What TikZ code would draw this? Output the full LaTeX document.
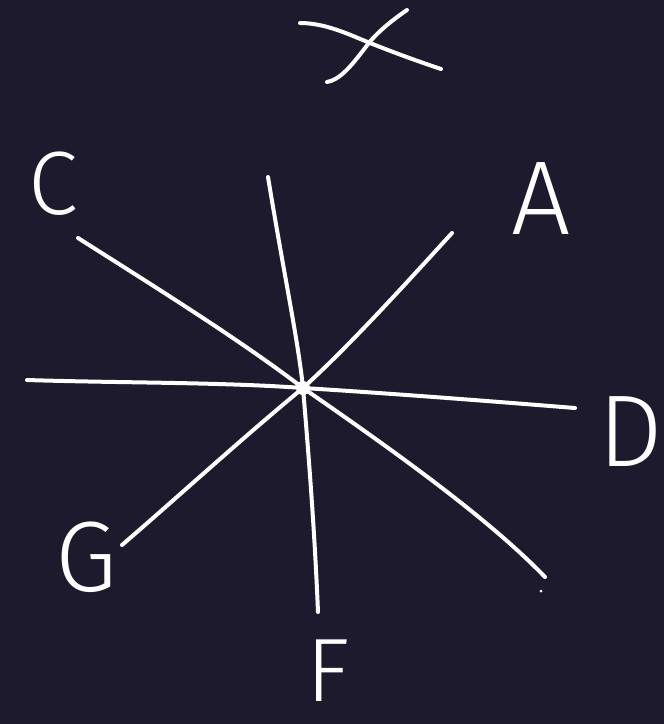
\documentclass[tikz,border=0pt]{standalone}
\usepackage{fontspec}
\setmainfont{Fira Sans Light}
\definecolor{bg}{HTML}{1E1A2E}
\begin{document}
\begin{tikzpicture}[x=1pt,y=-1pt,
  stroke/.style={draw=white,line width=4pt,line cap=round,line join=round},
  letter/.style={text=white,inner sep=0pt,anchor=center}]
\fill[bg] (0,0) rectangle (664,724);
\useasboundingbox (0,0) rectangle (664,724);
% centre
\coordinate (O) at (303,388);
% line ends
\coordinate (vt) at (268,177);
\coordinate (vb) at (318,612);
\coordinate (ht) at (27,380);
\coordinate (hb) at (575,408);
\coordinate (ct) at (78,238);
\coordinate (cb) at (545,577);
\coordinate (at) at (452,233);
\coordinate (ab) at (122,545);
% spokes
\draw[stroke] (vt) .. controls (285,280) and (298,340) .. (O) .. controls (310,470) and (315,540) .. (vb);
\draw[stroke] (ht) .. controls (120,383) and (220,382) .. (O) .. controls (400,394) and (500,402) .. (hb);
\draw[stroke] (ct) .. controls (160,290) and (240,340) .. (O) .. controls (400,455) and (490,520) .. (cb);
\draw[stroke] (at) .. controls (400,290) and (350,345) .. (O) .. controls (240,440) and (180,495) .. (ab);
\fill[white] (O) circle (7);
\fill[white] (541,591) circle (1.5);
% X mark at top
\coordinate (x1a) at (300,23);
\coordinate (x1b) at (441,69);
\coordinate (x2a) at (407,10);
\coordinate (x2b) at (327,82);
\draw[stroke] (x1a) .. controls (325,23) and (348,34) .. (370,43) .. controls (395,53) and (420,62) .. (x1b);
\draw[stroke] (x2a) .. controls (385,25) and (372,38) .. (365,48) .. controls (352,65) and (340,80) .. (x2b);
% letters
\node[letter,font=\fontsize{90}{90}\selectfont] (C) at (53,184) {C};
\node[letter,font=\fontsize{105}{105}\selectfont] (A) at (541,199) {A};
\node[letter,font=\fontsize{102}{102}\selectfont,anchor=west] (D) at (598,432) {D};
\node[letter,font=\fontsize{100}{100}\selectfont] (G) at (86,557) {G};
\node[letter,font=\fontsize{90}{90}\selectfont,anchor=base] (F) at (328,701) {F};
\end{tikzpicture}
\end{document}
